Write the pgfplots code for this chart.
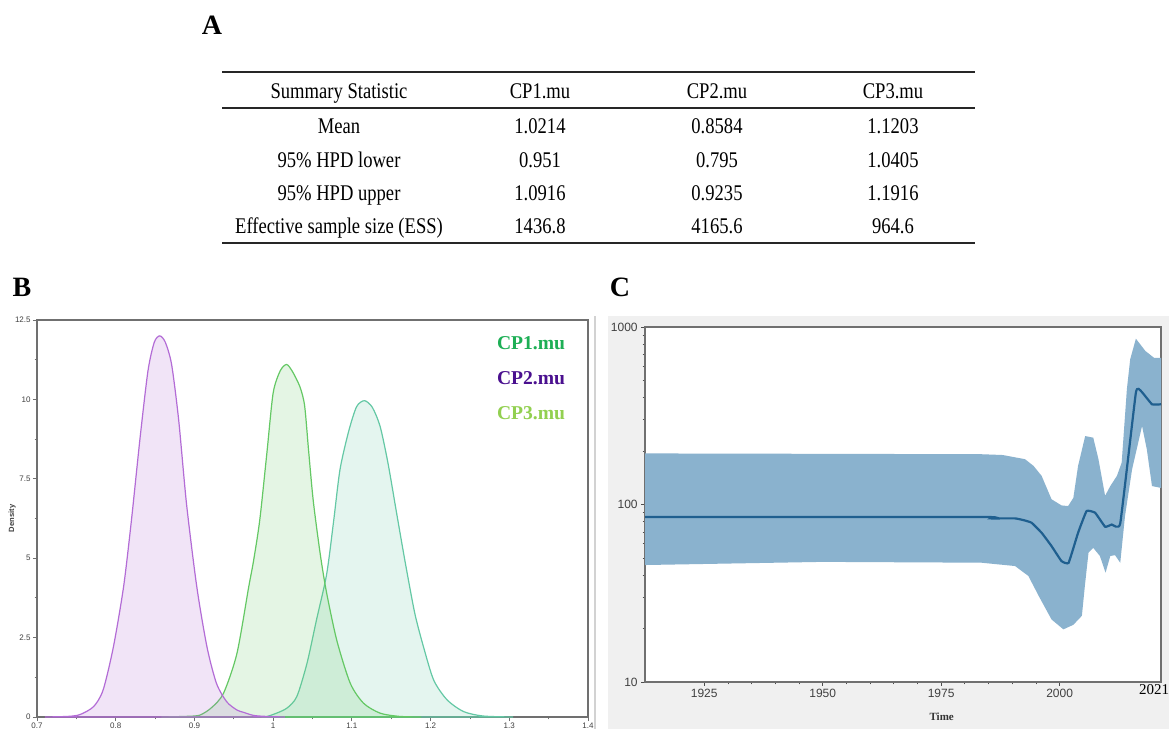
\documentclass[border=0pt]{standalone}
\usepackage{pgfplots}
\pgfplotsset{compat=1.18}
\usepackage{fontspec}
\setmainfont{Liberation Serif}
\newfontfamily\arialf{Liberation Sans}
\newfontfamily\tabfont[FakeStretch=0.83]{Liberation Serif}
\definecolor{cponeline}{HTML}{64C864}
\definecolor{cptwoline}{HTML}{B36CD6}
\definecolor{cpthreeline}{HTML}{64C8A5}
\definecolor{legone}{HTML}{1DAF55}
\definecolor{legtwo}{HTML}{4A108F}
\definecolor{legthree}{HTML}{92D050}
\definecolor{bandc}{HTML}{8AB2CE}
\definecolor{medc}{HTML}{1F5F8F}
\definecolor{bgC}{HTML}{F0F0F0}
\definecolor{framec}{HTML}{707070}
\begin{document}
\begin{tikzpicture}
\useasboundingbox (0,0) rectangle (584.5pt,364.5pt);
\fill[white] (0,0) rectangle (584.5pt,364.5pt);
% ---------- panel labels
\node[font=\fontsize{14}{14}\selectfont\bfseries] at (106pt,352pt) {A};
\node[font=\fontsize{14}{14}\selectfont\bfseries] at (11pt,221pt) {B};
\node[font=\fontsize{14}{14}\selectfont\bfseries] at (310pt,221pt) {C};
% ---------- table A
\draw[line width=0.9pt, black!85] (111pt,328.5pt) -- (487.5pt,328.5pt);
\draw[line width=0.8pt, black!85] (111pt,310.5pt) -- (487.5pt,310.5pt);
\draw[line width=0.9pt, black!85] (111pt,243pt) -- (487.5pt,243pt);
\begin{scope}[every node/.style={font=\tabfont\fontsize{11.2}{11.2}\selectfont, anchor=base, inner sep=0pt}]
\node at (169.5pt,315pt) {Summary Statistic};
\node at (270pt,315pt) {CP1.mu};
\node at (358.5pt,315pt) {CP2.mu};
\node at (446.5pt,315pt) {CP3.mu};
\node at (169.5pt,297.8pt) {Mean};
\node at (270pt,297.8pt) {1.0214};
\node at (358.5pt,297.8pt) {0.8584};
\node at (446.5pt,297.8pt) {1.1203};
\node at (169.5pt,280.8pt) {95\% HPD lower};
\node at (270pt,280.8pt) {0.951};
\node at (358.5pt,280.8pt) {0.795};
\node at (446.5pt,280.8pt) {1.0405};
\node at (169.5pt,264.3pt) {95\% HPD upper};
\node at (270pt,264.3pt) {1.0916};
\node at (358.5pt,264.3pt) {0.9235};
\node at (446.5pt,264.3pt) {1.1916};
\node at (169.5pt,247.5pt) {Effective sample size (ESS)};
\node at (270pt,247.5pt) {1436.8};
\node at (358.5pt,247.5pt) {4165.6};
\node at (446.5pt,247.5pt) {964.6};
\end{scope}
% ---------- panel C background
\fill[bgC] (304pt,0) rectangle (584.5pt,206.5pt);
\draw[gray!35, line width=0.6pt] (297.5pt,0) -- (297.5pt,206.5pt);
% ---------- panel B
\begin{axis}[at={(18.5pt,6pt)}, anchor=south west, scale only axis,
  width=275.5pt, height=198.5pt,
  xmin=0.7, xmax=1.4, ymin=0, ymax=12.5,
  xtick={0.7,0.8,0.9,1,1.1,1.2,1.3,1.4},
  ytick={0,2.5,5,7.5,10,12.5},
  minor x tick num=1, minor y tick num=1,
  tick pos=left,
  tick align=outside, major tick length=2pt, minor tick length=1.2pt,
  axis line style={framec, line width=0.6pt},
  every tick/.style={framec, line width=0.4pt},
  /pgf/number format/assume math mode=true,
  ticklabel style={font=\arialf\fontsize{4}{4}\selectfont, text=black!75, inner sep=1pt},
  ylabel={Density},
  ylabel style={font=\arialf\bfseries\fontsize{3.8}{4}\selectfont, text=black!75, at={(axis description cs:-0.045,0.5)}, anchor=center},
  clip=true]
\addplot[draw=cpthreeline, line width=0.6pt, fill=cpthreeline, fill opacity=0.17, smooth, tension=0.45] coordinates {
(0.990,0) (1.000,0.08) (1.017,0.27) (1.030,0.64) (1.043,1.69) (1.055,3.05)
(1.068,4.5) (1.077,6.2) (1.085,7.8) (1.096,9.0) (1.106,9.77) (1.116,9.96)
(1.126,9.75) (1.136,9.14) (1.146,7.98) (1.157,6.4) (1.168,4.84) (1.180,3.26)
(1.191,2.21) (1.204,1.16) (1.221,0.54) (1.242,0.17) (1.267,0.03) (1.305,0)
} \closedcycle;
\addplot[draw=cponeline, line width=0.6pt, fill=cponeline, fill opacity=0.17, smooth, tension=0.45] coordinates {
(0.858,0) (0.890,0.02) (0.907,0.06) (0.922,0.3) (0.937,0.75) (0.954,2.0)
(0.969,4.1) (0.975,4.9) (0.983,6.2) (0.992,8.3) (1.000,10.2) (1.009,10.9)
(1.017,11.1) (1.024,10.9) (1.034,10.4) (1.040,9.8) (1.045,8.4) (1.051,6.8)
(1.060,5.1) (1.068,3.9) (1.081,2.4) (1.098,1.06) (1.115,0.43) (1.136,0.12)
(1.160,0.02) (1.188,0)
} \closedcycle;
\addplot[draw=cptwoline, line width=0.6pt, fill=cptwoline, fill opacity=0.18, smooth, tension=0.45] coordinates {
(0.710,0) (0.740,0.02) (0.755,0.08) (0.772,0.33) (0.784,0.85) (0.797,2.2)
(0.810,4.1) (0.820,6.2) (0.831,8.8) (0.841,10.9) (0.849,11.8) (0.856,12.0)
(0.863,11.8) (0.871,11.1) (0.880,9.35) (0.890,6.7) (0.903,4.1) (0.916,2.2)
(0.928,1.06) (0.941,0.48) (0.954,0.22) (0.962,0.15) (0.975,0.05) (0.990,0.02)
(1.015,0)
} \closedcycle;
\end{axis}
% legend B
\node[font=\fontsize{9.8}{9.8}\selectfont\bfseries, text=legone, anchor=west] at (245pt,193pt) {CP1.mu};
\node[font=\fontsize{9.8}{9.8}\selectfont\bfseries, text=legtwo, anchor=west] at (245pt,175.5pt) {CP2.mu};
\node[font=\fontsize{9.8}{9.8}\selectfont\bfseries, text=legthree, anchor=west] at (245pt,158pt) {CP3.mu};
% ---------- panel C
\begin{axis}[at={(322.5pt,23.5pt)}, anchor=south west, scale only axis,
  width=258pt, height=177.5pt,
  ymode=log, xmin=1912.5, xmax=2021.4, ymin=10, ymax=1000,
  xtick={1925,1950,1975,2000}, minor x tick num=4,
  ytick={10,100,1000}, yticklabels={10,100,1000},
  extra x ticks={2021}, extra x tick labels={2021},
  extra x tick style={major tick length=0pt, tick label style={font=\fontsize{7.5}{7.5}\selectfont, text=black, yshift=0.5pt, xshift=-2.5pt}},
  tick pos=left,
  tick align=outside, major tick length=2pt, minor tick length=1.2pt,
  axis background/.style={fill=white},
  axis line style={framec, line width=0.7pt},
  every tick/.style={black!70, line width=0.4pt},
  x tick label style={/pgf/number format/1000 sep={}},
  /pgf/number format/assume math mode=true,
  ticklabel style={font=\arialf\fontsize{6}{6}\selectfont, text=black!75, inner sep=1.5pt},
  xlabel={Time},
  xlabel style={font=\bfseries\fontsize{5.5}{6}\selectfont, text=black!80, at={(axis description cs:0.575,0)}, anchor=center, yshift=-17.5pt},
  clip=true]
\addplot[fill=bandc, draw=none] coordinates {
(1912.5,194) (1950,193) (1983.5,192) (1988,190) (1992.7,180) (1994.5,165)
(1996.2,145) (1998.3,107) (2000.4,98.8) (2001.8,98) (2002.9,109) (2003.9,165)
(2005.4,243) (2007.1,238) (2008.2,180) (2009.6,112) (2010.7,127) (2012.1,145)
(2013.1,172) (2014.2,446) (2014.9,658) (2016.1,859) (2018.1,733) (2019.9,671)
(2021.4,671)
(2021.4,124) (2019.5,127) (2018.4,205) (2017.4,277) (2015.3,158) (2013.8,86)
(2012.8,47) (2011.7,51.8) (2010.7,51.3) (2009.7,41.3) (2008.5,51.3) (2007.1,57)
(2006.1,53.5) (2005.4,36.2) (2004.7,23.6) (2002.9,21) (2000.8,19.8) (1998.3,22.5)
(1995.6,30.5) (1993.4,39.6) (1990.6,45) (1983.5,47) (1950,47.5) (1912.5,45.6)
} -- cycle;
\addplot[medc, line width=1.1pt, smooth, tension=0.2] coordinates {
(1912.5,85) (1984.5,85) (1985.5,83.5) (1990.6,83.5) (1992.5,81.5) (1994.1,78.9)
(1996.2,69.3) (1998.3,58.3) (2000.4,48) (2001.9,46.9) (2003.9,69.3) (2005.7,91.9)
(2007.5,89.8) (2009.6,75) (2011,77.1) (2012.8,78.3) (2016.1,427) (2017.2,435)
(2019.5,367) (2021.4,367)
};
\end{axis}
\end{tikzpicture}
\end{document}
